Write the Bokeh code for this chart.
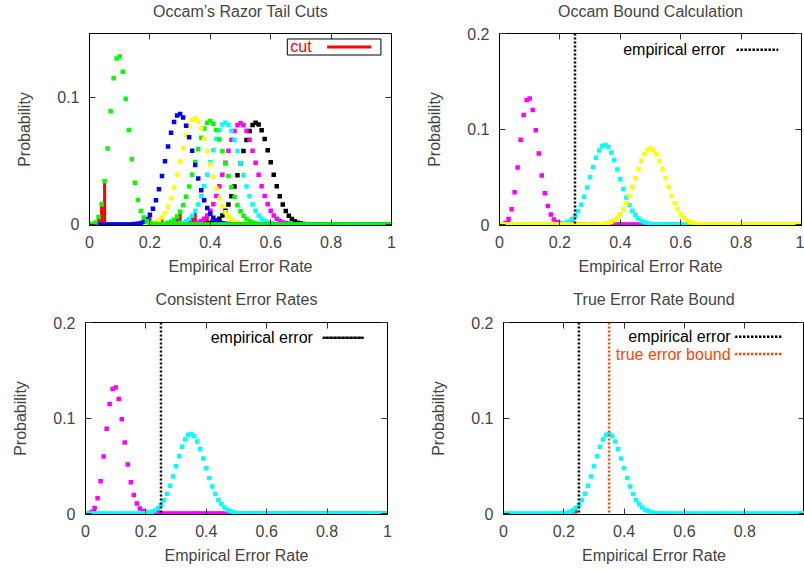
from bokeh.plotting import figure
from bokeh.models import (Range1d, FixedTicker, CustomJSTickFormatter, LinearAxis,
                          Span, BoxAnnotation, Label)
from bokeh.layouts import column, row
from bokeh.embed import file_html
from bokeh.resources import INLINE

# ---------------- data ----------------
error_rate = [0.00, 0.01, 0.02, 0.03, 0.04, 0.05, 0.06, 0.07, 0.08, 0.09,
              0.10, 0.11, 0.12, 0.13, 0.14, 0.15, 0.16, 0.17, 0.18, 0.19,
              0.20, 0.21, 0.22, 0.23, 0.24, 0.25, 0.26, 0.27, 0.28, 0.29,
              0.30, 0.31, 0.32, 0.33, 0.34, 0.35, 0.36, 0.37, 0.38, 0.39,
              0.40, 0.41, 0.42, 0.43, 0.44, 0.45, 0.46, 0.47, 0.48, 0.49,
              0.50, 0.51, 0.52, 0.53, 0.54, 0.55, 0.56, 0.57, 0.58, 0.59,
              0.60, 0.61, 0.62, 0.63, 0.64, 0.65, 0.66, 0.67, 0.68, 0.69,
              0.70, 0.71, 0.72, 0.73, 0.74, 0.75, 0.76, 0.77, 0.78, 0.79,
              0.80, 0.81, 0.82, 0.83, 0.84, 0.85, 0.86, 0.87, 0.88, 0.89,
              0.90, 0.91, 0.92, 0.93, 0.94, 0.95, 0.96, 0.97, 0.98, 0.99,
              1.00]

# non-zero part of each distribution and the index where it starts
dist_10_start = 0
dist_10 = [0.0000, 0.0003, 0.0016, 0.0059, 0.0159, 0.0339, 0.0596, 0.0889, 0.1148, 0.1304,
           0.1319, 0.1199, 0.0988, 0.0743, 0.0513, 0.0327, 0.0193, 0.0106, 0.0054, 0.0026,
           0.0012, 0.0005, 0.0002, 0.0001]
dist_30_start = 14
dist_30 = [0.0001, 0.0003, 0.0006, 0.0012, 0.0024, 0.0044, 0.0076, 0.0124, 0.0190, 0.0277,
           0.0380, 0.0496, 0.0613, 0.0720, 0.0804, 0.0856, 0.0868, 0.0840, 0.0776, 0.0685,
           0.0579, 0.0468, 0.0362, 0.0268, 0.0191, 0.0130, 0.0085, 0.0053, 0.0032, 0.0019,
           0.0010, 0.0006, 0.0003, 0.0001]
dist_35_start = 18
dist_35 = [0.0001, 0.0002, 0.0004, 0.0009, 0.0018, 0.0032, 0.0055, 0.0090, 0.0140, 0.0207,
           0.0290, 0.0388, 0.0494, 0.0601, 0.0698, 0.0774, 0.0821, 0.0834, 0.0811, 0.0755,
           0.0674, 0.0577, 0.0474, 0.0373, 0.0282, 0.0205, 0.0143, 0.0096, 0.0062, 0.0038,
           0.0023, 0.0013, 0.0007, 0.0004, 0.0002, 0.0001]
dist_40_start = 23
dist_40 = [0.0001, 0.0003, 0.0006, 0.0012, 0.0022, 0.0038, 0.0063, 0.0100, 0.0151, 0.0217,
           0.0298, 0.0391, 0.0491, 0.0591, 0.0682, 0.0754, 0.0799, 0.0812, 0.0792, 0.0742,
           0.0667, 0.0576, 0.0478, 0.0381, 0.0292, 0.0215, 0.0152, 0.0103, 0.0068, 0.0043,
           0.0026, 0.0015, 0.0008, 0.0004, 0.0002, 0.0001]
dist_45_start = 27
dist_45 = [0.0001, 0.0002, 0.0004, 0.0008, 0.0014, 0.0025, 0.0043, 0.0069, 0.0106, 0.0157,
           0.0222, 0.0301, 0.0391, 0.0488, 0.0584, 0.0671, 0.0741, 0.0785, 0.0799, 0.0782,
           0.0735, 0.0664, 0.0577, 0.0481, 0.0386, 0.0298, 0.0221, 0.0157, 0.0107, 0.0071,
           0.0045, 0.0027, 0.0016, 0.0009, 0.0005, 0.0002, 0.0001]
dist_50_start = 32
dist_50 = [0.0001, 0.0002, 0.0005, 0.0009, 0.0016, 0.0027, 0.0045, 0.0071, 0.0108, 0.0159,
           0.0223, 0.0301, 0.0390, 0.0485, 0.0580, 0.0666, 0.0735, 0.0780, 0.0796, 0.0780,
           0.0735, 0.0666, 0.0580, 0.0485, 0.0390, 0.0301, 0.0223, 0.0159, 0.0108, 0.0071,
           0.0045, 0.0027, 0.0016, 0.0009, 0.0005, 0.0002, 0.0001]
dist_55_start = 37
dist_55 = [0.0001, 0.0002, 0.0005, 0.0009, 0.0016, 0.0027, 0.0045, 0.0071, 0.0107, 0.0157,
           0.0221, 0.0298, 0.0386, 0.0481, 0.0577, 0.0664, 0.0735, 0.0782, 0.0799, 0.0785,
           0.0741, 0.0671, 0.0584, 0.0488, 0.0391, 0.0301, 0.0222, 0.0157, 0.0106, 0.0069,
           0.0043, 0.0025, 0.0014, 0.0008, 0.0004, 0.0002, 0.0001]

# (distribution, colour, index of last cut point) in drawing order
panel1_series = [("d55", "#000000", 43), ("d50", "#ff00ff", 39), ("d45", "#00ffff", 35),
                 ("d40", "#00ff00", 30), ("d35", "#ffff00", 24), ("d30", "#0000ff", 20),
                 ("d10", "#00ff00", 5)]
panel2_series = [("d10", "#ff00ff", 3), ("d35", "#00ffff", 24), ("d50", "#ffff00", 38)]
panel3_series = [("d10", "#ff00ff", 3), ("d35", "#00ffff", 24)]
panel4_series = [("d35", "#00ffff", 24)]

empirical_error = 0.25
true_error_bound = 0.35

x_ticks = [0, 0.2, 0.4, 0.6, 0.8, 1]
y_ticks_1 = [0, 0.1]
y_ticks_2 = [0, 0.1, 0.2]

titles = ["Occam\u2019s Razor Tail Cuts", "Occam Bound Calculation",
          "Consistent Error Rates", "True Error Rate Bound"]


def full(start, vals):
    return [0.0] * start + vals + [0.0] * (len(error_rate) - start - len(vals))


dists = {
    "d10": full(dist_10_start, dist_10),
    "d30": full(dist_30_start, dist_30),
    "d35": full(dist_35_start, dist_35),
    "d40": full(dist_40_start, dist_40),
    "d45": full(dist_45_start, dist_45),
    "d50": full(dist_50_start, dist_50),
    "d55": full(dist_55_start, dist_55),
}

FONT = "Liberation Sans"
FS = "16px"
tick_fmt = "return tick.toString();"
blank_fmt = "return '';"


def make_panel(title, width, height, bl, br, bt, bb, title_gap, x_end, y_start, y_end,
               yticks, series):
    p = figure(width=width, height=height, output_backend="svg", toolbar_location=None,
               x_range=Range1d(0, x_end), y_range=Range1d(y_start, y_end),
               min_border_left=bl, min_border_right=br, min_border_top=bt,
               min_border_bottom=bb, tools="")
    p.title.text = title
    p.title.align = "center"
    p.title.text_font = FONT
    p.title.text_font_size = FS
    p.title.text_font_style = "normal"
    p.title.standoff = 0
    p.title.offset = 0
    p.grid.visible = False
    p.outline_line_color = "black"
    p.outline_line_width = 1
    p.background_fill_color = "white"
    p.border_fill_color = "white"

    for ax, lab in ((p.xaxis[0], "Empirical Error Rate"), (p.yaxis[0], "Probability")):
        ax.axis_label = lab
        ax.axis_label_text_font = FONT
        ax.axis_label_text_font_size = FS
        ax.axis_label_text_font_style = "normal"
        ax.major_label_text_font = FONT
        ax.major_label_text_font_size = FS
        ax.major_tick_in = 6
        ax.major_tick_out = 0
        ax.minor_tick_in = 0
        ax.minor_tick_out = 0
        ax.major_tick_line_color = "#333333"
        ax.axis_line_color = "black"
        ax.formatter = CustomJSTickFormatter(code=tick_fmt)
    p.xaxis[0].ticker = FixedTicker(ticks=x_ticks)
    p.yaxis[0].ticker = FixedTicker(ticks=yticks)
    p.xaxis[0].major_label_standoff = 10
    p.xaxis[0].axis_label_standoff = 7
    p.yaxis[0].major_label_standoff = 10
    p.yaxis[0].axis_label_standoff = 21

    # mirrored ticks on the top and right edges
    for side, tk in (("above", x_ticks), ("right", yticks)):
        ax = LinearAxis(ticker=FixedTicker(ticks=tk),
                        formatter=CustomJSTickFormatter(code=blank_fmt),
                        major_label_text_font_size="1px", major_label_text_color=None,
                        major_tick_in=6, major_tick_out=0, minor_tick_in=0, minor_tick_out=0,
                        major_label_standoff=0, major_tick_line_color="#333333",
                        axis_line_color="black")
        p.add_layout(ax, side)
    # invisible spacer between the frame and the title
    spacer = LinearAxis(ticker=FixedTicker(ticks=[x_end / 2]),
                        formatter=CustomJSTickFormatter(code=blank_fmt),
                        major_label_text_font_size="1px", major_label_text_color=None,
                        major_tick_in=0, major_tick_out=title_gap, minor_tick_in=0,
                        minor_tick_out=0, major_label_standoff=0,
                        major_tick_line_color=None, axis_line_color=None)
    p.add_layout(spacer, "above")

    # red tail cuts first (boxes under the cut points)
    for key, color, cut in series:
        p.vbar(x=error_rate[:cut + 1], top=dists[key][:cut + 1], bottom=0, width=0.01,
               fill_color="#ff0000", line_color=None)
    # distributions as points
    for key, color, cut in series:
        p.scatter(x=error_rate, y=dists[key], marker="square", size=4.5,
                  fill_color=color, line_color=None)
    return p


def text_label(p, x, y, text, color, align):
    p.add_layout(Label(x=x, y=y, text=text, text_color=color, text_align=align,
                       text_baseline="middle", text_font=FONT, text_font_size=FS))


def dotted_key(p, left, right, y, color):
    p.add_layout(BoxAnnotation(left=left, right=right, bottom=y, top=y + 0.00005,
                               fill_alpha=0, line_color=color, line_alpha=1,
                               line_dash="2 2", line_width=2.5))


def vline(p, x, color):
    p.add_layout(Span(location=x, dimension="height", line_color=color,
                      line_dash="2 2", line_width=2.5))


p1 = make_panel(titles[0], 402, 285, 89, 11, 33, 60, 14, 1, -0.0008, 0.15, y_ticks_1,
                panel1_series)
p1.add_layout(BoxAnnotation(left=0.655, right=0.965, bottom=0.1331, top=0.1457,
                            fill_color="white", fill_alpha=1, line_color="black",
                            line_alpha=1, line_width=1))
text_label(p1, 0.665, 0.1394, "cut", "#ff0000", "left")
p1.add_layout(BoxAnnotation(left=0.787, right=0.933, bottom=0.1382, top=0.1406,
                            fill_color="#ff0000", fill_alpha=1, line_color=None))

p2 = make_panel(titles[1], 402, 285, 97, 3, 33, 60, 14, 1, -0.001, 0.2, y_ticks_2,
                panel2_series)
vline(p2, empirical_error, "black")
text_label(p2, 0.748, 0.183, "empirical error", "black", "right")
dotted_key(p2, 0.786, 0.921, 0.183, "black")

p3 = make_panel(titles[2], 402, 285, 85, 15, 37, 56, 15, 1, -0.001, 0.2, y_ticks_2,
                panel3_series)
vline(p3, empirical_error, "black")
text_label(p3, 0.753, 0.184, "empirical error", "black", "right")
dotted_key(p3, 0.786, 0.919, 0.184, "black")

p4 = make_panel(titles[3], 402, 285, 101, 0, 37, 56, 15, 0.998, -0.001, 0.2, y_ticks_2,
                panel4_series)
vline(p4, empirical_error, "black")
vline(p4, true_error_bound, "#ff4500")
text_label(p4, 0.753, 0.185, "empirical error", "black", "right")
dotted_key(p4, 0.769, 0.924, 0.185, "black")
text_label(p4, 0.753, 0.167, "true error bound", "#ff4500", "right")
dotted_key(p4, 0.769, 0.924, 0.167, "#ff4500")

layout = column(row(p1, p2), row(p3, p4))
open("out.html", "w").write(file_html(layout, INLINE))
